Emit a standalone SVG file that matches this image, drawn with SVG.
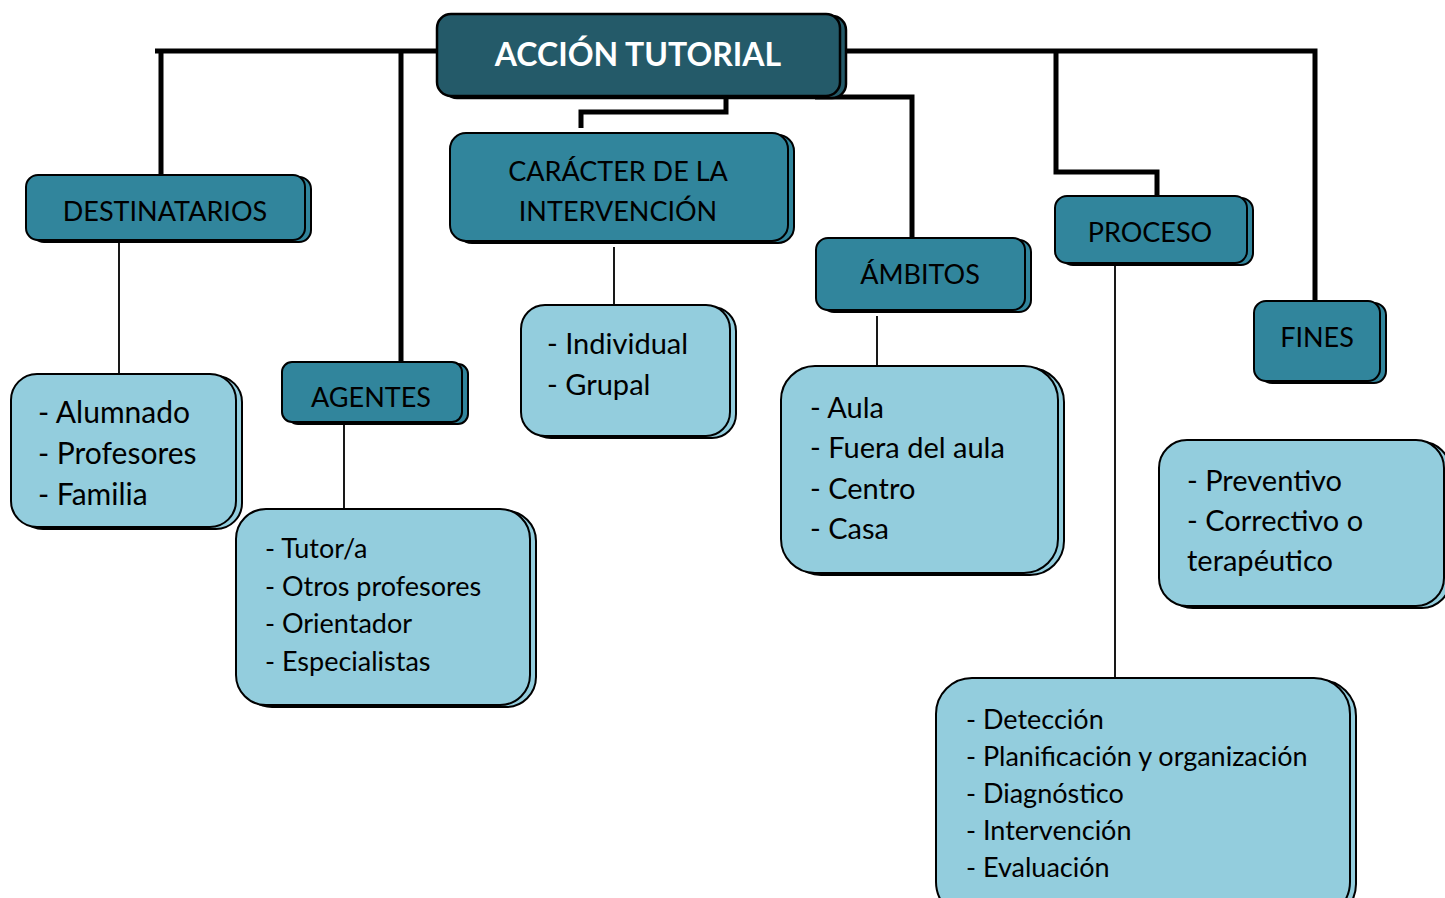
<svg xmlns="http://www.w3.org/2000/svg" width="1445" height="898" viewBox="0 0 1445 898">
<style>
.dark{fill:#31859c;stroke:#000;stroke-width:2}
.title{fill:#245a69;stroke:#000;stroke-width:2.5}
.light{fill:#93cddd;stroke:#000;stroke-width:2}
.thick{stroke:#000;stroke-width:5;fill:none}
.thin{stroke:#000;stroke-width:1.8;fill:none}
text{font-family:Lato,"Liberation Sans",sans-serif;fill:#000}
.h{font-size:27px;text-anchor:middle}
.l{font-size:29px}
.s{font-size:27px}
.t{font-size:32px;font-weight:bold;fill:#fff;text-anchor:middle}
</style>
<rect width="1445" height="898" fill="#fff"/>
<g id="connectors">
<path class="thick" d="M155 51H437M840 51H1315V301M161 51V175M401 51V362"/>
<path class="thick" d="M726 96V112H581V128"/>
<path class="thick" d="M815 97H912V238"/>
<path class="thick" d="M1056 51V172H1157V196"/>
<path class="thin" d="M119 243V375M614 247V305M877 316V366M344 425V510M1115 266V678"/>
</g>
<g id="accion-tutorial">
<rect class="title" x="443" y="16" width="403" height="82" rx="14"/>
<rect class="title" x="437" y="14" width="403" height="82" rx="14"/>
<text class="t" x="638" y="66">ACCIÓN TUTORIAL</text>
</g>
<g id="destinatarios">
<rect class="dark" x="32" y="177" width="279" height="65" rx="12"/>
<rect class="dark" x="26" y="175" width="279" height="65" rx="12"/>
<text class="h" x="165" y="221">DESTINATARIOS</text>
</g>
<g id="destinatarios-list">
<rect class="light" x="17" y="376" width="225" height="153" rx="26"/>
<rect class="light" x="11" y="374" width="225" height="153" rx="26"/>
<text class="l" x="38" y="423" style="font-size:30px">- Alumnado</text>
<text class="l" x="38" y="464" style="font-size:30px">- Profesores</text>
<text class="l" x="38" y="505" style="font-size:30px">- Familia</text>
</g>
<g id="agentes">
<rect class="dark" x="288" y="364" width="180" height="60" rx="10"/>
<rect class="dark" x="282" y="362" width="180" height="60" rx="10"/>
<text class="h" x="371" y="407">AGENTES</text>
</g>
<g id="agentes-list">
<rect class="light" x="242" y="511" width="294" height="196" rx="30"/>
<rect class="light" x="236" y="509" width="294" height="196" rx="30"/>
<text class="s" x="265" y="558">- Tutor/a</text>
<text class="s" x="265" y="596">- Otros profesores</text>
<text class="s" x="265" y="633">- Orientador</text>
<text class="s" x="265" y="671">- Especialistas</text>
</g>
<g id="caracter">
<rect class="dark" x="456" y="135" width="338" height="108" rx="16"/>
<rect class="dark" x="450" y="133" width="338" height="108" rx="16"/>
<text class="h" x="618" y="181">CARÁCTER DE LA</text>
<text class="h" x="618" y="221">INTERVENCIÓN</text>
</g>
<g id="caracter-list">
<rect class="light" x="527" y="307" width="209" height="131" rx="24"/>
<rect class="light" x="521" y="305" width="209" height="131" rx="24"/>
<text class="l" x="547" y="354">- Individual</text>
<text class="l" x="547" y="395">- Grupal</text>
</g>
<g id="ambitos">
<rect class="dark" x="822" y="240" width="209" height="72" rx="12"/>
<rect class="dark" x="816" y="238" width="209" height="72" rx="12"/>
<text class="h" x="920" y="284">ÁMBITOS</text>
</g>
<g id="ambitos-list">
<rect class="light" x="787" y="368" width="277" height="207" rx="34"/>
<rect class="light" x="781" y="366" width="277" height="207" rx="34"/>
<text class="l" x="810" y="418">- Aula</text>
<text class="l" x="810" y="458">- Fuera del aula</text>
<text class="l" x="810" y="499">- Centro</text>
<text class="l" x="810" y="539">- Casa</text>
</g>
<g id="proceso">
<rect class="dark" x="1061" y="198" width="192" height="67" rx="12"/>
<rect class="dark" x="1055" y="196" width="192" height="67" rx="12"/>
<text class="h" x="1150" y="242">PROCESO</text>
</g>
<g id="proceso-list">
<rect class="light" x="942" y="680" width="414" height="240" rx="36"/>
<rect class="light" x="936" y="678" width="414" height="240" rx="36"/>
<text class="s" x="966" y="729">- Detección</text>
<text class="s" x="966" y="766">- Planificación y organización</text>
<text class="s" x="966" y="803">- Diagnóstico</text>
<text class="s" x="966" y="840">- Intervención</text>
<text class="s" x="966" y="877">- Evaluación</text>
</g>
<g id="fines">
<rect class="dark" x="1260" y="303" width="126" height="80" rx="12"/>
<rect class="dark" x="1254" y="301" width="126" height="80" rx="12"/>
<text class="h" x="1317" y="347">FINES</text>
</g>
<g id="fines-list">
<rect class="light" x="1165" y="442" width="285" height="166" rx="28"/>
<rect class="light" x="1159" y="440" width="285" height="166" rx="28"/>
<text class="l" x="1187" y="491">- Preventivo</text>
<text class="l" x="1187" y="531">- Correctivo o</text>
<text class="l" x="1187" y="571">terapéutico</text>
</g>
</svg>
